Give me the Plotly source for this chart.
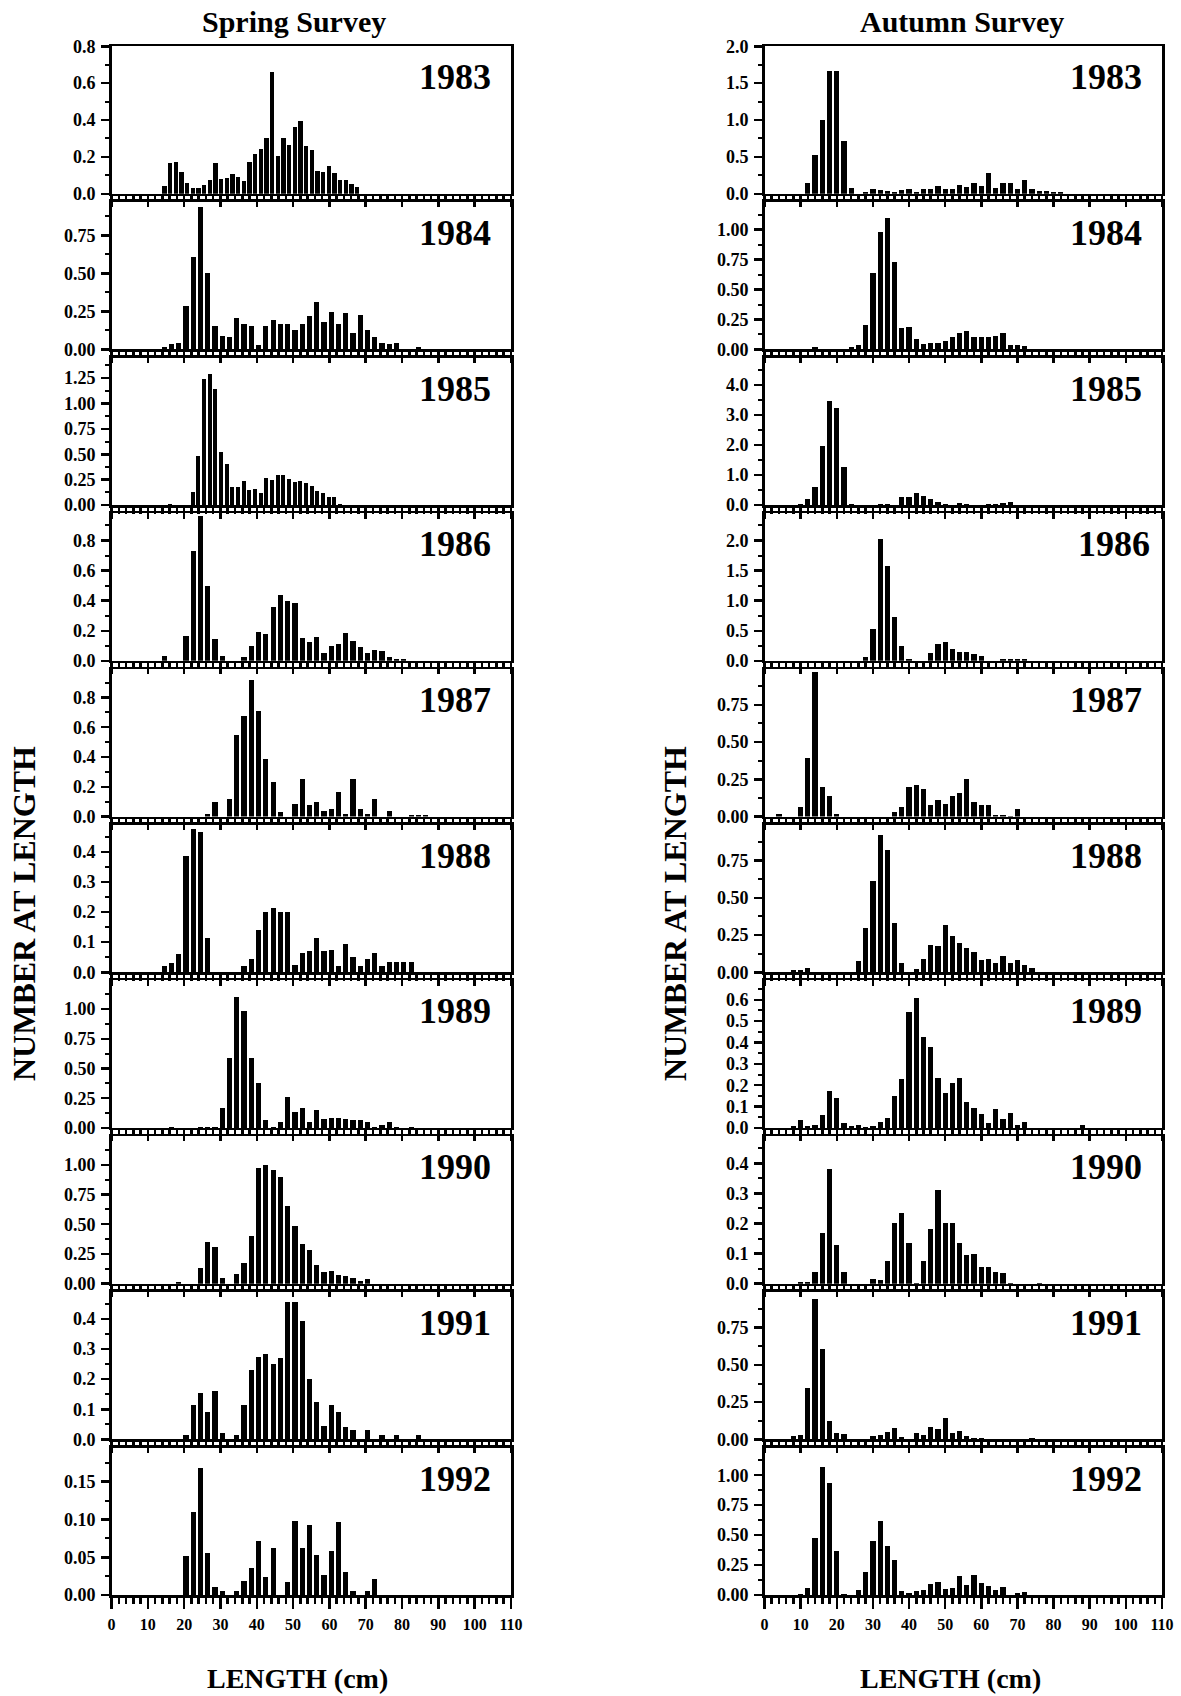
import plotly.graph_objects as go

YEARS = [1983, 1984, 1985, 1986, 1987, 1988, 1989, 1990, 1991, 1992]
X_TICKS = [0, 10, 20, 30, 40, 50, 60, 70, 80, 90, 100, 110]

# ---------------- Spring survey (number at length) ----------------
spring_1983 = [0.04, 0.165, 0.175, 0.12, 0.06, 0.03, 0.03, 0.045, 0.075, 0.165, 0.08, 0.085, 0.105, 0.09,
               0.07, 0.175, 0.215, 0.245, 0.30, 0.66, 0.205, 0.30, 0.265, 0.36, 0.395, 0.26, 0.24, 0.125,
               0.12, 0.15, 0.11, 0.075, 0.075, 0.055, 0.035]
spring_1984 = [0.015, 0.035, 0.045, 0.285, 0.605, 0.935, 0.50, 0.155, 0.09, 0.085, 0.205, 0.165, 0.155,
               0.03, 0.155, 0.195, 0.165, 0.165, 0.13, 0.17, 0.22, 0.31, 0.18, 0.245, 0.17, 0.24, 0.11,
               0.225, 0.125, 0.085, 0.04, 0.035, 0.045, 0, 0, 0.015]
spring_1985 = [0.01, 0, 0, 0, 0.13, 0.485, 1.24, 1.29, 1.14, 0.52, 0.40, 0.18, 0.18, 0.24, 0.15, 0.155,
               0.12, 0.265, 0.245, 0.30, 0.30, 0.26, 0.23, 0.235, 0.22, 0.19, 0.135, 0.12, 0.08, 0.08, 0.01]
spring_1986 = [0.03, 0, 0, 0.165, 0.73, 0.965, 0.495, 0.145, 0.03, 0, 0, 0.025, 0.10, 0.19, 0.18, 0.355,
               0.44, 0.395, 0.385, 0.155, 0.125, 0.16, 0.055, 0.10, 0.11, 0.185, 0.13, 0.095, 0.05, 0.07,
               0.065, 0.025, 0.015, 0.01]
spring_1987 = [0.02, 0.095, 0, 0.12, 0.55, 0.675, 0.915, 0.71, 0.385, 0.23, 0.03, 0, 0.085, 0.25, 0.08,
               0.095, 0.04, 0.05, 0.165, 0.015, 0.25, 0.05, 0.015, 0.115, 0, 0.04, 0, 0, 0.01, 0.01, 0.01]
spring_1988 = [0.02, 0.03, 0.06, 0.385, 0.475, 0.465, 0.115, 0, 0, 0, 0, 0.02, 0.045, 0.14, 0.20, 0.215,
               0.20, 0.20, 0.025, 0.065, 0.07, 0.115, 0.07, 0.075, 0.02, 0.095, 0.05, 0.02, 0.045, 0.065,
               0.02, 0.035, 0.035, 0.033, 0.033]
spring_1989 = [0.01, 0, 0, 0, 0.01, 0.005, 0.01, 0.165, 0.59, 1.10, 0.98, 0.59, 0.375, 0.07, 0.01, 0.05,
               0.26, 0.13, 0.17, 0.05, 0.155, 0.075, 0.085, 0.085, 0.075, 0.065, 0.065, 0.05, 0.01, 0.025,
               0.05, 0.01, 0, 0.008]
spring_1990 = [0.01, 0, 0, 0.135, 0.35, 0.31, 0.05, 0, 0.08, 0.17, 0.40, 0.97, 1.0, 0.96, 0.90, 0.655,
               0.485, 0.335, 0.285, 0.155, 0.10, 0.11, 0.075, 0.065, 0.045, 0.025, 0.035]
spring_1991 = [0.015, 0.115, 0.155, 0.09, 0.16, 0.02, 0, 0.015, 0.115, 0.23, 0.275, 0.285, 0.25, 0.27,
               0.455, 0.455, 0.395, 0.20, 0.125, 0.045, 0.115, 0.09, 0.04, 0.03, 0, 0.03, 0, 0.015, 0,
               0.015, 0, 0, 0.015]
spring_1992 = [0.052, 0.11, 0.168, 0.055, 0.011, 0.005, 0, 0.006, 0.018, 0.036, 0.071, 0.024, 0.062, 0,
               0.017, 0.098, 0.062, 0.093, 0.053, 0.027, 0.058, 0.097, 0.03, 0.006, 0, 0.006, 0.021]

SPRING_VALUES = [spring_1983, spring_1984, spring_1985, spring_1986, spring_1987,
                 spring_1988, spring_1989, spring_1990, spring_1991, spring_1992]
SPRING_FIRST_CM = [14.6, 14.5, 16.1, 14.5, 26.5, 14.5, 16.5, 18.5, 20.5, 20.5]
SPRING_BIN_CM = [1.56, 2, 1.56, 2, 2, 2, 2, 2, 2, 2]
SPRING_YMAX = [0.8, 0.97, 1.45, 0.98, 0.99, 0.49, 1.24, 1.24, 0.49, 0.195]
SPRING_YDTICK = [0.2, 0.25, 0.25, 0.2, 0.2, 0.1, 0.25, 0.25, 0.1, 0.05]
SPRING_YFMT = ['.1f', '.2f', '.2f', '.1f', '.1f', '.1f', '.2f', '.2f', '.1f', '.2f']

# ---------------- Autumn survey ----------------
autumn_1983 = [0.14, 0.53, 1.0, 1.66, 1.67, 0.72, 0.08, 0, 0.02, 0.07, 0.05, 0.04, 0.03, 0.05, 0.06, 0.02,
               0.07, 0.07, 0.10, 0.07, 0.07, 0.12, 0.09, 0.14, 0.10, 0.28, 0.08, 0.15, 0.15, 0.06, 0.19,
               0.06, 0.04, 0.04, 0.03, 0.03]
autumn_1984 = [0.02, 0, 0, 0, 0, 0.02, 0.035, 0.20, 0.64, 0.98, 1.10, 0.73, 0.175, 0.185, 0.09, 0.045,
               0.05, 0.05, 0.07, 0.105, 0.135, 0.155, 0.10, 0.10, 0.10, 0.115, 0.14, 0.04, 0.035, 0.03]
autumn_1985 = [0.05, 0.2, 0.6, 1.98, 3.45, 3.22, 1.28, 0.05, 0, 0, 0, 0.05, 0.04, 0, 0.26, 0.26, 0.40,
               0.32, 0.20, 0.12, 0.05, 0, 0.07, 0.04, 0, 0, 0.05, 0.05, 0.06, 0.12]
autumn_1986 = [0.06, 0.53, 2.03, 1.57, 0.73, 0.24, 0.03, 0, 0, 0.13, 0.28, 0.32, 0.20, 0.14, 0.145, 0.11,
               0.08, 0, 0, 0.03, 0.035, 0.035, 0.035]
autumn_1987 = [0.02, 0, 0, 0.065, 0.395, 0.97, 0.20, 0.14, 0.015, 0, 0, 0, 0, 0, 0, 0, 0.03, 0.065, 0.20,
               0.21, 0.185, 0.075, 0.11, 0.085, 0.135, 0.155, 0.255, 0.095, 0.08, 0.08, 0.01, 0.01, 0.005,
               0.05]
autumn_1988 = [0.015, 0.015, 0.03, 0, 0, 0, 0, 0, 0, 0.075, 0.30, 0.61, 0.92, 0.82, 0.33, 0.06, 0, 0.025,
               0.09, 0.18, 0.175, 0.315, 0.245, 0.195, 0.16, 0.135, 0.08, 0.09, 0.06, 0.11, 0.065, 0.085,
               0.05, 0.03]
autumn_1989 = [0.008, 0.035, 0.008, 0.015, 0.06, 0.175, 0.14, 0.025, 0.01, 0.015, 0.003, 0.01, 0.03,
               0.045, 0.15, 0.23, 0.545, 0.61, 0.425, 0.38, 0.235, 0.165, 0.21, 0.235, 0.12, 0.095, 0.065,
               0.025, 0.09, 0.04, 0.07, 0.015, 0.03, 0, 0, 0, 0, 0, 0, 0, 0.015]
autumn_1990 = [0.005, 0.005, 0.04, 0.17, 0.38, 0.13, 0.04, 0, 0, 0, 0.015, 0.012, 0.075, 0.20, 0.235,
               0.135, 0.003, 0.075, 0.18, 0.31, 0.20, 0.20, 0.135, 0.095, 0.10, 0.055, 0.055, 0.04, 0.035,
               0.003, 0, 0, 0, 0.003]
autumn_1991 = [0.025, 0.03, 0.345, 0.94, 0.605, 0.12, 0.04, 0.035, 0, 0, 0, 0.025, 0.03, 0.05, 0.075,
               0.015, 0, 0.04, 0.03, 0.08, 0.07, 0.14, 0.04, 0.055, 0.025, 0.012, 0.01, 0, 0, 0, 0, 0, 0,
               0.012]
autumn_1992 = [0.01, 0.06, 0.48, 1.07, 0.935, 0.365, 0.01, 0.003, 0.04, 0.19, 0.45, 0.62, 0.41, 0.29,
               0.035, 0.02, 0.035, 0.04, 0.09, 0.105, 0.05, 0.06, 0.155, 0.085, 0.165, 0.10, 0.075, 0.045,
               0.065, 0.003, 0.015, 0.025]

AUTUMN_VALUES = [autumn_1983, autumn_1984, autumn_1985, autumn_1986, autumn_1987,
                 autumn_1988, autumn_1989, autumn_1990, autumn_1991, autumn_1992]
AUTUMN_FIRST_CM = [12, 14, 10, 28, 4, 8, 8, 10, 8, 10]
AUTUMN_BIN_CM = [2, 2, 2, 2, 2, 2, 2, 2, 2, 2]
AUTUMN_YMAX = [2.0, 1.23, 4.9, 2.45, 0.99, 0.99, 0.69, 0.49, 0.99, 1.23]
AUTUMN_YDTICK = [0.5, 0.25, 1.0, 0.5, 0.25, 0.25, 0.1, 0.1, 0.25, 0.25]
AUTUMN_YFMT = ['.1f', '.2f', '.1f', '.1f', '.2f', '.2f', '.1f', '.1f', '.2f', '.2f']

COLUMN_TITLES = ["Spring Survey", "Autumn Survey"]

# ---------------- layout geometry (page pixels) ----------------
W, H = 1181, 1696
COL_X = [(111.5, 511), (764.5, 1162)]
TITLE_X = [294, 962]
XLABEL_X = [297, 950]
YLABEL_X = [24, 675]
TOP0, BOT0, PITCH = 45, 195, 155.7
FONT = "Liberation Serif"


def fx(px):
    return px / W


def fy(py):
    return 1 - py / H


fig = go.Figure()
layout = dict(width=W, height=H, margin=dict(l=0, r=0, t=0, b=0, pad=0, autoexpand=False),
              paper_bgcolor="white", plot_bgcolor="white", showlegend=False,
              bargap=0, annotations=[])

columns = [
    (SPRING_VALUES, SPRING_FIRST_CM, SPRING_BIN_CM, SPRING_YMAX, SPRING_YDTICK, SPRING_YFMT),
    (AUTUMN_VALUES, AUTUMN_FIRST_CM, AUTUMN_BIN_CM, AUTUMN_YMAX, AUTUMN_YDTICK, AUTUMN_YFMT),
]

k = 0
for c, (vals_list, firsts, bins, ymaxs, dticks, fmts) in enumerate(columns):
    x0, x1 = COL_X[c]
    for r in range(10):
        k += 1
        xn = "x" if k == 1 else f"x{k}"
        yn = "y" if k == 1 else f"y{k}"
        xl = "xaxis" if k == 1 else f"xaxis{k}"
        yl = "yaxis" if k == 1 else f"yaxis{k}"
        vals = vals_list[r]
        lengths = [firsts[r] + bins[r] * i for i in range(len(vals))]
        fig.add_trace(go.Bar(x=lengths, y=vals, width=bins[r] * 0.72,
                             marker=dict(color="black", line=dict(width=0)),
                             xaxis=xn, yaxis=yn, hoverinfo="skip"))
        top_px = TOP0 + r * PITCH + 1.25
        bot_px = BOT0 + r * PITCH - 1.25
        ydom = [fy(bot_px), fy(top_px)]
        last = (r == 9)
        layout[xl] = dict(
            domain=[fx(x0), fx(x1)], anchor=yn, range=[0, 110], automargin=False,
            tickmode="array", tickvals=X_TICKS, ticktext=[str(v) for v in X_TICKS],
            ticks="outside", ticklen=11, tickwidth=2.5, tickcolor="black",
            minor=dict(dtick=2, tick0=0, ticks="outside", ticklen=6, tickwidth=2.5, tickcolor="black"),
            showline=True, linewidth=2.5, linecolor="black", mirror=True,
            showgrid=False, zeroline=False, showticklabels=last,
            ticklabelstandoff=2,
            tickfont=dict(family=FONT, size=16, color="black", weight="bold"),
        )
        layout[yl] = dict(
            domain=ydom, anchor=xn, range=[0, ymaxs[r] * 1.0005], automargin=False,
            tick0=0, dtick=dticks[r], tickformat=fmts[r],
            ticks="outside", ticklen=8, tickwidth=2.5, tickcolor="black",
            minor=dict(dtick=dticks[r] / 2, tick0=0, ticks="outside", ticklen=4, tickwidth=2, tickcolor="black"),
            showline=True, linewidth=2.5, linecolor="black", mirror=True,
            showgrid=False, zeroline=False, ticklabelstandoff=2,
            tickfont=dict(family=FONT, size=18, color="black", weight="bold"),
        )
        xshift = -10 if (c == 1 and YEARS[r] == 1986) else -18
        layout["annotations"].append(dict(
            text=f"<b>{YEARS[r]}</b>", xref=f"{xn} domain", yref=f"{yn} domain",
            x=1, y=1, xanchor="right", yanchor="middle", xshift=xshift, yshift=-31,
            showarrow=False, font=dict(family=FONT, size=36, color="black")))

# column titles and axis titles
for c, title in enumerate(COLUMN_TITLES):
    layout["annotations"].append(dict(
        text=f"<b>{title}</b>", xref="paper", yref="paper", x=fx(TITLE_X[c]), y=fy(22),
        xanchor="center", yanchor="middle", showarrow=False,
        font=dict(family=FONT, size=30, color="black")))
    layout["annotations"].append(dict(
        text="<b>LENGTH (cm)</b>", xref="paper", yref="paper", x=fx(XLABEL_X[c]), y=fy(1678),
        xanchor="center", yanchor="middle", showarrow=False,
        font=dict(family=FONT, size=28, color="black")))
    layout["annotations"].append(dict(
        text="<b>NUMBER AT LENGTH</b>", xref="paper", yref="paper", x=fx(YLABEL_X[c]), y=fy(914),
        xanchor="center", yanchor="middle", textangle=-90, showarrow=False,
        font=dict(family=FONT, size=32, color="black")))

fig.update_layout(**layout)
fig.write_html("out.html",
               config={"displayModeBar": False, "staticPlot": True},
               post_script="document.body.style.margin='0';document.body.style.overflow='hidden';")
